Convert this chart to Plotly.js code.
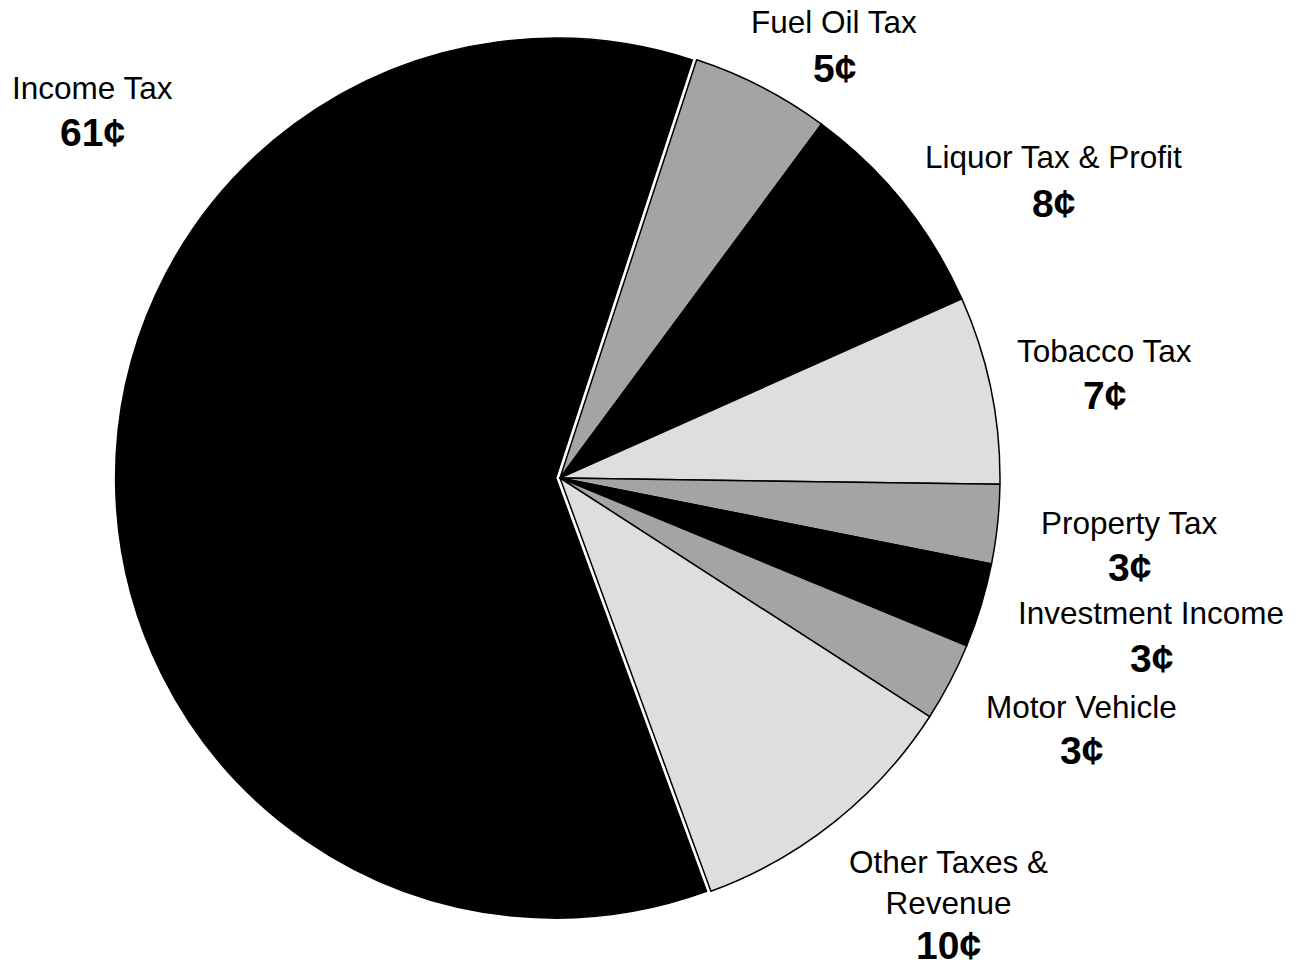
<!DOCTYPE html>
<html>
<head>
<meta charset="utf-8">
<script src="https://cdn.plot.ly/plotly-3.0.1.min.js"></script>
<style>html,body{margin:0;padding:0;background:#fff;}#chart{width:1300px;height:966px;}</style>
</head>
<body>
<div id="chart"></div>
<script>
// Data
var categories = ["Fuel Oil Tax", "Liquor Tax & Profit", "Tobacco Tax", "Property Tax", "Investment Income", "Motor Vehicle", "Other Taxes &<br>Revenue", "Income Tax"];
var values = [5.1, 8.2, 6.9, 2.9, 3.1, 2.9, 10.3, 60.6];
var centLabels = ["5¢", "8¢", "7¢", "3¢", "3¢", "3¢", "10¢", "61¢"];

// Styles / layout (not data)
var sliceColors = ["#a4a4a4", "#000000", "#dedede", "#a4a4a4", "#000000", "#a4a4a4", "#dedede", "#000000"];
var pulls = [0, 0, 0, 0, 0, 0, 0, 0.01];
// label anchor positions in pixels: [center x, name y, value y]
var labelPos = [
  [834, 22, 68],
  [1053, 157, 203],
  [1104, 351, 395],
  [1129, 523, 567],
  [1151, 613, 658],
  [1081, 707, 750],
  [948, 882, 945],
  [92, 88, 133]
];

var W = 1300, H = 966;
var annotations = [];
for (var i = 0; i < categories.length; i++) {
  var p = labelPos[i];
  annotations.push({
    xref: 'paper', yref: 'paper', x: p[0] / W, y: 1 - p[1] / H,
    xanchor: 'center', yanchor: 'middle', showarrow: false,
    text: categories[i], align: 'center',
    font: {family: 'Liberation Sans, Arial, sans-serif', size: 31.5, color: '#000'}
  });
  annotations.push({
    xref: 'paper', yref: 'paper', x: p[0] / W, y: 1 - p[2] / H,
    xanchor: 'center', yanchor: 'middle', showarrow: false,
    text: '<b>' + centLabels[i] + '</b>',
    font: {family: 'Liberation Sans, Arial, sans-serif', size: 39, color: '#000'}
  });
}

var trace = {
  type: 'pie',
  labels: categories,
  values: values,
  sort: false,
  direction: 'clockwise',
  rotation: 18.1,
  pull: pulls,
  textinfo: 'none',
  hoverinfo: 'label+value',
  marker: {colors: sliceColors, line: {color: '#000000', width: 1.5}},
  domain: {x: [115.6 / W, 1004.4 / W], y: [43.6 / H, 932.4 / H]},
  showlegend: false
};

var layout = {
  width: W, height: H,
  margin: {l: 0, r: 0, t: 0, b: 0},
  paper_bgcolor: '#ffffff',
  showlegend: false,
  annotations: annotations
};

Plotly.newPlot('chart', [trace], layout, {staticPlot: true});
</script>
</body>
</html>
